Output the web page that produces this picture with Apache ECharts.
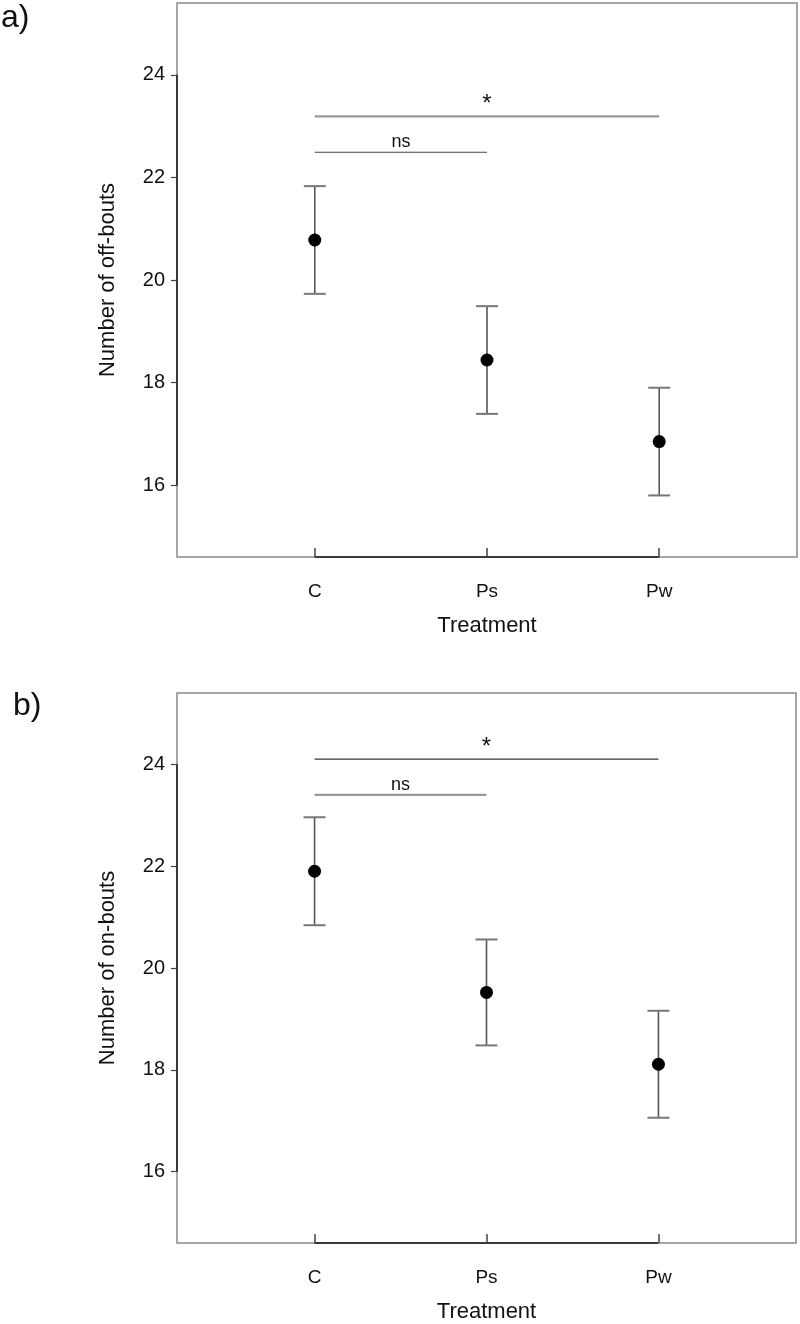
<!DOCTYPE html>
<html>
<head>
<meta charset="utf-8">
<script src="https://cdn.jsdelivr.net/npm/echarts@6/dist/echarts.min.js"></script>
<style>
  html, body { margin: 0; padding: 0; background: #fff; }
  #chart { width: 800px; height: 1324px; }
</style>
</head>
<body>
<div id="chart"></div>
<script>
// categories and values
const categories = ['C', 'Ps', 'Pw']
const offMean = [20.78, 18.44, 16.85]
const offErr = [1.05, 1.05, 1.05]
const onMean = [21.90, 19.52, 18.11]
const onErr = [1.06, 1.04, 1.05]
const yTicks = [16, 18, 20, 22, 24]
// significance bars: [from, to, y, label]
const offSig = [[0, 2, 23.19, '*'], [0, 1, 22.49, 'ns']]
const onSig = [[0, 2, 24.10, '*'], [0, 1, 23.40, 'ns']]

const X_MIN = -0.8
const X_MAX = 2.8
const Y_MIN = 14.6
const Y_MAX = 25.4
const font = '"Liberation Sans", Arial, sans-serif'
const textColor = '#111'

const chart = echarts.init(document.getElementById('chart'))

function makeAxes (i, yName) {
  const xAxis = {
    gridIndex: i,
    type: 'value',
    min: X_MIN,
    max: X_MAX,
    splitLine: { show: false },
    axisLine: { show: false, onZero: false },
    axisTick: {
      show: true,
      inside: true,
      length: 9,
      customValues: [0, 1, 2],
      lineStyle: { color: '#444', width: 1.5 }
    },
    axisLabel: {
      customValues: [0, 1, 2],
      formatter: v => categories[v],
      margin: 25,
      fontSize: 19,
      fontFamily: font,
      color: textColor
    },
    name: 'Treatment',
    nameLocation: 'middle',
    nameGap: 58,
    nameTextStyle: { fontSize: 22, fontFamily: font, color: textColor }
  }
  const yAxis = {
    gridIndex: i,
    type: 'value',
    min: Y_MIN,
    max: Y_MAX,
    splitLine: { show: false },
    axisLine: { show: false, onZero: false },
    axisTick: {
      show: true,
      length: 6,
      customValues: yTicks,
      lineStyle: { color: '#444', width: 1.2 }
    },
    axisLabel: {
      customValues: yTicks,
      margin: 12,
      fontSize: 20,
      fontFamily: font,
      color: textColor
    },
    name: yName,
    nameLocation: 'middle',
    nameGap: 58,
    nameRotate: 90,
    nameTextStyle: { fontSize: 22, fontFamily: font, color: textColor }
  }
  return { xAxis, yAxis }
}

// error bars with caps
function errorSeries (i, mean, err) {
  return {
    type: 'custom',
    xAxisIndex: i,
    yAxisIndex: i,
    z: 3,
    data: mean.map((m, k) => [k, m - err[k], m + err[k]]),
    renderItem: function (params, api) {
      const lo = api.coord([api.value(0), api.value(1)])
      const hi = api.coord([api.value(0), api.value(2)])
      const hw = 11
      return {
        type: 'group',
        children: [
          { type: 'line', shape: { x1: lo[0], y1: lo[1], x2: hi[0], y2: hi[1] }, style: { stroke: '#555', lineWidth: 1.6 } },
          { type: 'line', shape: { x1: lo[0] - hw, y1: lo[1], x2: lo[0] + hw, y2: lo[1] }, style: { stroke: '#777', lineWidth: 2 } },
          { type: 'line', shape: { x1: hi[0] - hw, y1: hi[1], x2: hi[0] + hw, y2: hi[1] }, style: { stroke: '#777', lineWidth: 2 } }
        ]
      }
    }
  }
}

// significance bars; the styles differ between the panels
function sigSeries (i, sig, styles) {
  return {
    type: 'custom',
    xAxisIndex: i,
    yAxisIndex: i,
    z: 3,
    data: sig.map(s => [s[0], s[1], s[2]]),
    renderItem: function (params, api) {
      const a = api.coord([api.value(0), api.value(2)])
      const b = api.coord([api.value(1), api.value(2)])
      const st = styles[params.dataIndex]
      const label = sig[params.dataIndex][3]
      const star = label === '*'
      return {
        type: 'group',
        children: [
          { type: 'line', shape: { x1: a[0], y1: a[1], x2: b[0], y2: b[1] }, style: { stroke: st.color, lineWidth: st.width } },
          {
            type: 'text',
            style: {
              x: (a[0] + b[0]) / 2,
              y: a[1] - (star ? 0 : 1),
              text: label,
              fontSize: star ? 24 : 18,
              fontFamily: font,
              fill: textColor,
              align: 'center',
              verticalAlign: 'bottom'
            }
          }
        ]
      }
    }
  }
}

// darker axis segments (16-24 on y, C-Pw on x)
function frameSeries (i) {
  return {
    type: 'custom',
    xAxisIndex: i,
    yAxisIndex: i,
    z: 2,
    silent: true,
    data: [[0]],
    renderItem: function (params, api) {
      const y0 = api.coord([X_MIN, yTicks[0]])
      const y1 = api.coord([X_MIN, yTicks[yTicks.length - 1]])
      const x0 = api.coord([0, Y_MIN])
      const x1 = api.coord([categories.length - 1, Y_MIN])
      return {
        type: 'group',
        children: [
          { type: 'line', shape: { x1: y0[0], y1: y0[1], x2: y1[0], y2: y1[1] }, style: { stroke: '#3a3a3a', lineWidth: 2 } },
          { type: 'line', shape: { x1: x0[0], y1: x0[1], x2: x1[0], y2: x1[1] }, style: { stroke: '#3a3a3a', lineWidth: 2 } }
        ]
      }
    }
  }
}

function pointSeries (i, mean) {
  return {
    type: 'scatter',
    xAxisIndex: i,
    yAxisIndex: i,
    z: 4,
    symbol: 'circle',
    symbolSize: 13,
    itemStyle: { color: '#000', opacity: 1 },
    data: mean.map((m, k) => [k, m])
  }
}

const axA = makeAxes(0, 'Number of off-bouts')
const axB = makeAxes(1, 'Number of on-bouts')

const option = {
  animation: false,
  backgroundColor: '#fff',
  grid: [
    { left: 177, top: 3, width: 620, height: 554, show: true, borderColor: '#8a8a8a', borderWidth: 1.5, backgroundColor: 'transparent' },
    { left: 177, top: 693, width: 619, height: 554, show: true, borderColor: '#8a8a8a', borderWidth: 1.5, backgroundColor: 'transparent' }
  ],
  xAxis: [axA.xAxis, axB.xAxis],
  yAxis: [axA.yAxis, axB.yAxis],
  graphic: [
    { type: 'text', left: 1, top: 2, style: { text: 'a)', fontSize: 32, fontFamily: font, fill: textColor } },
    { type: 'text', left: 13, top: 690, style: { text: 'b)', fontSize: 32, fontFamily: font, fill: textColor } }
  ],
  series: [
    frameSeries(0),
    errorSeries(0, offMean, offErr),
    sigSeries(0, offSig, [{ color: '#999', width: 2.2 }, { color: '#444', width: 1.2 }]),
    pointSeries(0, offMean),
    frameSeries(1),
    errorSeries(1, onMean, onErr),
    sigSeries(1, onSig, [{ color: '#333', width: 1.2 }, { color: '#999', width: 2.2 }]),
    pointSeries(1, onMean)
  ]
}

chart.setOption(option)
</script>
</body>
</html>
